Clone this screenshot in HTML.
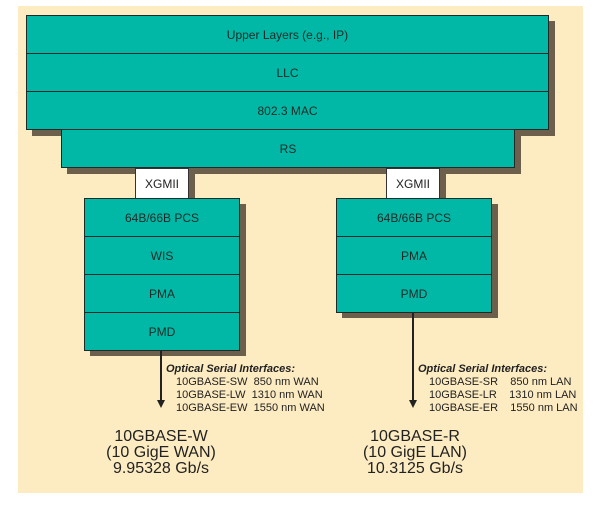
<!DOCTYPE html>
<html><head><style>
body{margin:0;width:606px;height:505px;background:#fff;position:relative;font-family:"Liberation Sans",sans-serif;overflow:hidden}
.bg{position:absolute;left:18px;top:6px;width:565px;height:487px;background:#fdecc2}
.b{position:absolute;background:#00b8a5;border:1.5px solid #1f2a28;box-sizing:border-box;display:flex;align-items:center;justify-content:center;font-size:12px;color:#1e2a28}
.s{position:absolute;background:#6c5f4c}
.x{position:absolute;background:#fff;border:1px solid #333;box-sizing:border-box;display:flex;align-items:center;justify-content:center;font-size:12px;color:#222}
.t{position:absolute;font-size:11px;color:#222;line-height:13px;white-space:pre}
.big{position:absolute;font-size:16px;color:#222;line-height:16px;text-align:center;width:160px}
.ln{position:absolute;width:1.5px;background:#222}
.ar{position:absolute;width:0;height:0;border-left:4px solid transparent;border-right:4px solid transparent;border-top:8px solid #222}
</style></head><body>
<div class="bg"></div>
<div class="s" style="left:32px;top:21px;width:523px;height:115px"></div>
<div class="s" style="left:67px;top:136px;width:454px;height:38px"></div>
<div class="s" style="left:90px;top:204px;width:156px;height:152px"></div>
<div class="s" style="left:342px;top:204px;width:156px;height:114px"></div>
<div class="s" style="left:189px;top:168px;width:6px;height:30px"></div>
<div class="s" style="left:440px;top:168px;width:6px;height:30px"></div>
<div class="b" style="left:26px;top:15px;width:523px;height:39px">Upper Layers (e.g., IP)</div>
<div class="b" style="left:26px;top:53px;width:523px;height:39px">LLC</div>
<div class="b" style="left:26px;top:91px;width:523px;height:39px">802.3 MAC</div>
<div class="b" style="left:61px;top:129px;width:454px;height:39px">RS</div>
<div class="x" style="left:135px;top:168px;width:54px;height:31px">XGMII</div>
<div class="x" style="left:386px;top:168px;width:54px;height:31px">XGMII</div>
<div class="b" style="left:84px;top:198px;width:156px;height:39px">64B/66B PCS</div>
<div class="b" style="left:84px;top:236px;width:156px;height:39px">WIS</div>
<div class="b" style="left:84px;top:274px;width:156px;height:39px">PMA</div>
<div class="b" style="left:84px;top:312px;width:156px;height:39px">PMD</div>
<div class="b" style="left:336px;top:198px;width:156px;height:39px">64B/66B PCS</div>
<div class="b" style="left:336px;top:236px;width:156px;height:39px">PMA</div>
<div class="b" style="left:336px;top:274px;width:156px;height:39px">PMD</div>
<div class="ln" style="left:160px;top:351px;height:50px"></div>
<div class="ar" style="left:157px;top:400px"></div>
<div class="ln" style="left:412px;top:313px;height:88px"></div>
<div class="ar" style="left:409px;top:400px"></div>
<div class="t" style="left:166px;top:363px;font-weight:bold;font-style:italic">Optical Serial Interfaces:</div>
<div class="t" style="left:176px;top:376px">10GBASE-SW  850 nm WAN
10GBASE-LW  1310 nm WAN
10GBASE-EW  1550 nm WAN</div>
<div class="t" style="left:418px;top:363px;font-weight:bold;font-style:italic">Optical Serial Interfaces:</div>
<div class="t" style="left:429px;top:376px">10GBASE-SR    850 nm LAN
10GBASE-LR    1310 nm LAN
10GBASE-ER    1550 nm LAN</div>
<div class="big" style="left:81px;top:429px">10GBASE-W<br>(10 GigE WAN)<br>9.95328 Gb/s</div>
<div class="big" style="left:335px;top:429px">10GBASE-R<br>(10 GigE LAN)<br>10.3125 Gb/s</div>
</body></html>
